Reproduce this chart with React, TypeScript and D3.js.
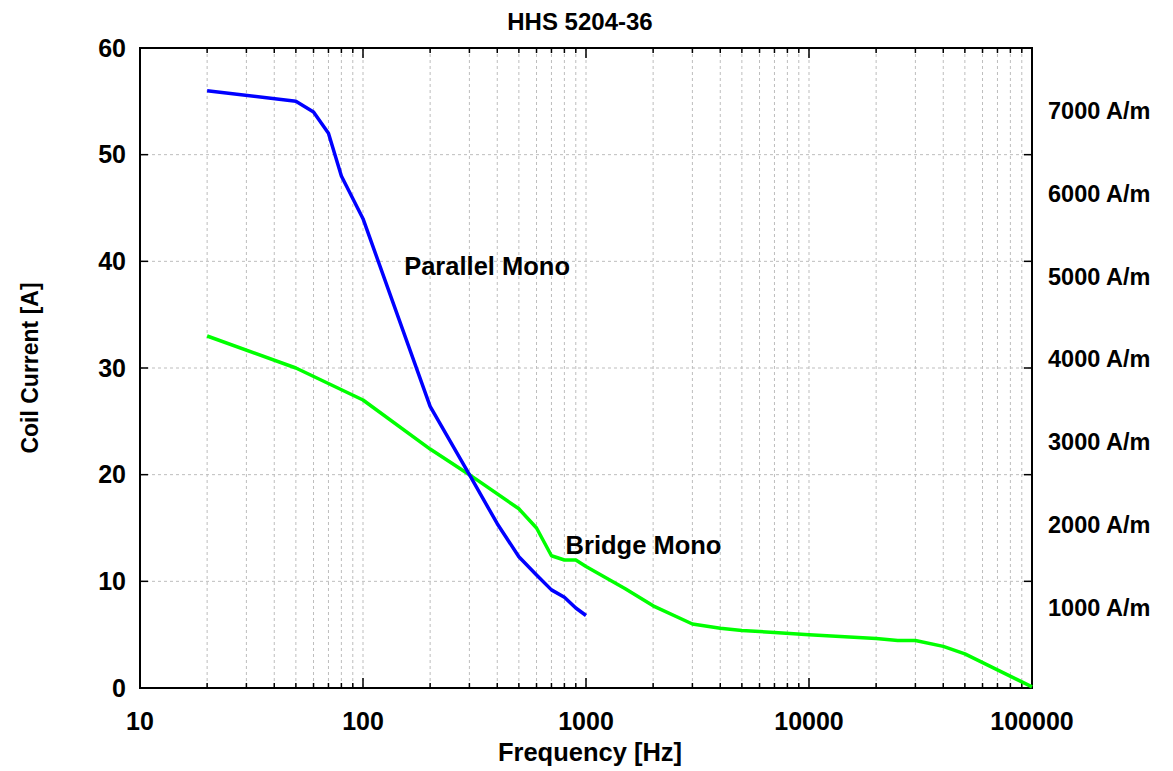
import { useEffect, useRef } from 'react'
import * as d3 from 'd3'

// Parallel Mono (blue)
const parallelFreq = [20, 50, 60, 70, 80, 100, 200, 300, 400, 500, 600, 700, 800, 900, 1000]
const parallelAmps = [56, 55, 54, 52, 48, 44, 26.4, 20, 15.4, 12.3, 10.6, 9.2, 8.5, 7.5, 6.8]

// Bridge Mono (green)
const bridgeFreq = [20, 50, 100, 200, 300, 500, 600, 700, 800, 900, 1000, 1500, 2000, 3000, 4000, 5000, 6000, 7000, 10000, 20000, 25000, 30000, 40000, 50000, 100000]
const bridgeAmps = [33, 30, 27, 22.4, 20, 16.8, 15, 12.4, 12, 12, 11.4, 9.3, 7.7, 6, 5.6, 5.4, 5.3, 5.2, 5, 4.65, 4.45, 4.45, 3.9, 3.2, 0.1]

const xTicks = [10, 100, 1000, 10000, 100000]
const yTicks = [0, 10, 20, 30, 40, 50, 60]
const rightTicks = [1000, 2000, 3000, 4000, 5000, 6000, 7000]

const App = () => {
  const margin = { top: 48, right: 141, bottom: 83, left: 140 }
  const totalW = 1173
  const totalH = 771
  const width = totalW - margin.left - margin.right
  const height = totalH - margin.top - margin.bottom

  const svgRef = useRef<SVGSVGElement>(null)

  useEffect(() => {
    const svg = d3.select(svgRef.current)
    svg.selectAll('*').remove()

    const font = 'Arial, "Liberation Sans", sans-serif'

    const x = d3.scaleLog().domain([10, 100000]).range([0, width])
    const y = d3.scaleLinear().domain([0, 60]).range([height, 0])
    const yRight = d3.scaleLinear().domain([0, 7730]).range([height, 0])

    const g = svg.append('g').attr('transform', `translate(${margin.left},${margin.top})`)

    // minor + major log positions
    const logTicks: number[] = []
    for (let dec = 10; dec < 100000; dec *= 10) {
      for (let m = 1; m < 10; m++) logTicks.push(dec * m)
    }
    logTicks.push(100000)

    // grid
    logTicks.forEach(t => {
      if (t === 10 || t === 100000) return
      g.append('line')
        .attr('x1', x(t)).attr('x2', x(t))
        .attr('y1', 0).attr('y2', height)
        .attr('stroke', '#bdbdbd')
        .attr('stroke-width', 1)
        .attr('stroke-dasharray', '3,3')
    })
    yTicks.forEach(t => {
      if (t === 0 || t === 60) return
      g.append('line')
        .attr('x1', 0).attr('x2', width)
        .attr('y1', y(t)).attr('y2', y(t))
        .attr('stroke', '#bdbdbd')
        .attr('stroke-width', 1)
        .attr('stroke-dasharray', '3,3')
    })

    // ticks (inward, mirrored)
    logTicks.forEach(t => {
      const major = xTicks.includes(t)
      const len = major ? 10 : 5
      g.append('line')
        .attr('x1', x(t)).attr('x2', x(t))
        .attr('y1', height).attr('y2', height - len)
        .attr('stroke', 'black').attr('stroke-width', 1.5)
      g.append('line')
        .attr('x1', x(t)).attr('x2', x(t))
        .attr('y1', 0).attr('y2', len)
        .attr('stroke', 'black').attr('stroke-width', 1.5)
    })
    yTicks.forEach(t => {
      g.append('line')
        .attr('x1', 0).attr('x2', 8)
        .attr('y1', y(t)).attr('y2', y(t))
        .attr('stroke', 'black').attr('stroke-width', 1.5)
      g.append('line')
        .attr('x1', width).attr('x2', width - 8)
        .attr('y1', y(t)).attr('y2', y(t))
        .attr('stroke', 'black').attr('stroke-width', 1.5)
    })

    // frame
    g.append('rect')
      .attr('x', 0).attr('y', 0)
      .attr('width', width).attr('height', height)
      .attr('fill', 'none')
      .attr('stroke', 'black')
      .attr('stroke-width', 2)

    // tick labels
    xTicks.forEach(t => {
      g.append('text')
        .attr('x', x(t)).attr('y', height + 33)
        .attr('dy', '0.35em')
        .attr('text-anchor', 'middle')
        .style('font-family', font).style('font-weight', 'bold').style('font-size', '25px')
        .text(`${t}`)
    })
    yTicks.forEach(t => {
      g.append('text')
        .attr('x', -14).attr('y', y(t))
        .attr('dy', '0.35em')
        .attr('text-anchor', 'end')
        .style('font-family', font).style('font-weight', 'bold').style('font-size', '25px')
        .text(`${t}`)
    })
    rightTicks.forEach(t => {
      g.append('text')
        .attr('x', width + 16).attr('y', yRight(t))
        .attr('dy', '0.45em')
        .attr('text-anchor', 'start')
        .style('font-family', font).style('font-weight', 'bold').style('font-size', '23.5px')
        .text(`${t} A/m`)
    })

    // lines
    const line = d3.line<[number, number]>()
      .x(d => x(d[0]))
      .y(d => y(d[1]))

    g.append('path')
      .datum(bridgeFreq.map((f, i) => [f, bridgeAmps[i]] as [number, number]))
      .attr('fill', 'none')
      .attr('stroke', '#00ff00')
      .attr('stroke-width', 3.5)
      .attr('stroke-linejoin', 'round')
      .attr('d', line)

    g.append('path')
      .datum(parallelFreq.map((f, i) => [f, parallelAmps[i]] as [number, number]))
      .attr('fill', 'none')
      .attr('stroke', '#0000ff')
      .attr('stroke-width', 3.5)
      .attr('stroke-linejoin', 'round')
      .attr('d', line)

    // series labels
    g.append('text')
      .attr('x', x(153)).attr('y', y(39.6))
      .attr('dy', '0.35em')
      .style('font-family', font).style('font-weight', 'bold').style('font-size', '25.5px')
      .text('Parallel Mono')

    g.append('text')
      .attr('x', x(810)).attr('y', y(13.4))
      .attr('dy', '0.35em')
      .style('font-family', font).style('font-weight', 'bold').style('font-size', '25.5px')
      .text('Bridge Mono')

    // titles
    svg.append('text')
      .attr('x', 580).attr('y', 22)
      .attr('dy', '0.35em')
      .attr('text-anchor', 'middle')
      .style('font-family', font).style('font-weight', 'bold').style('font-size', '24px')
      .text('HHS 5204-36')

    svg.append('text')
      .attr('x', 590).attr('y', 752)
      .attr('dy', '0.35em')
      .attr('text-anchor', 'middle')
      .style('font-family', font).style('font-weight', 'bold').style('font-size', '25.5px')
      .text('Frequency [Hz]')

    svg.append('text')
      .attr('transform', `translate(30,${margin.top + height / 2}) rotate(-90)`)
      .attr('dy', '0.35em')
      .attr('text-anchor', 'middle')
      .style('font-family', font).style('font-weight', 'bold').style('font-size', '23px')
      .text('Coil Current [A]')
  }, [])

  return (
    <svg
      ref={svgRef}
      width={totalW}
      height={totalH}
      style={{ position: 'absolute', left: 0, top: 0, background: 'white' }}
    ></svg>
  )
}

export default App
